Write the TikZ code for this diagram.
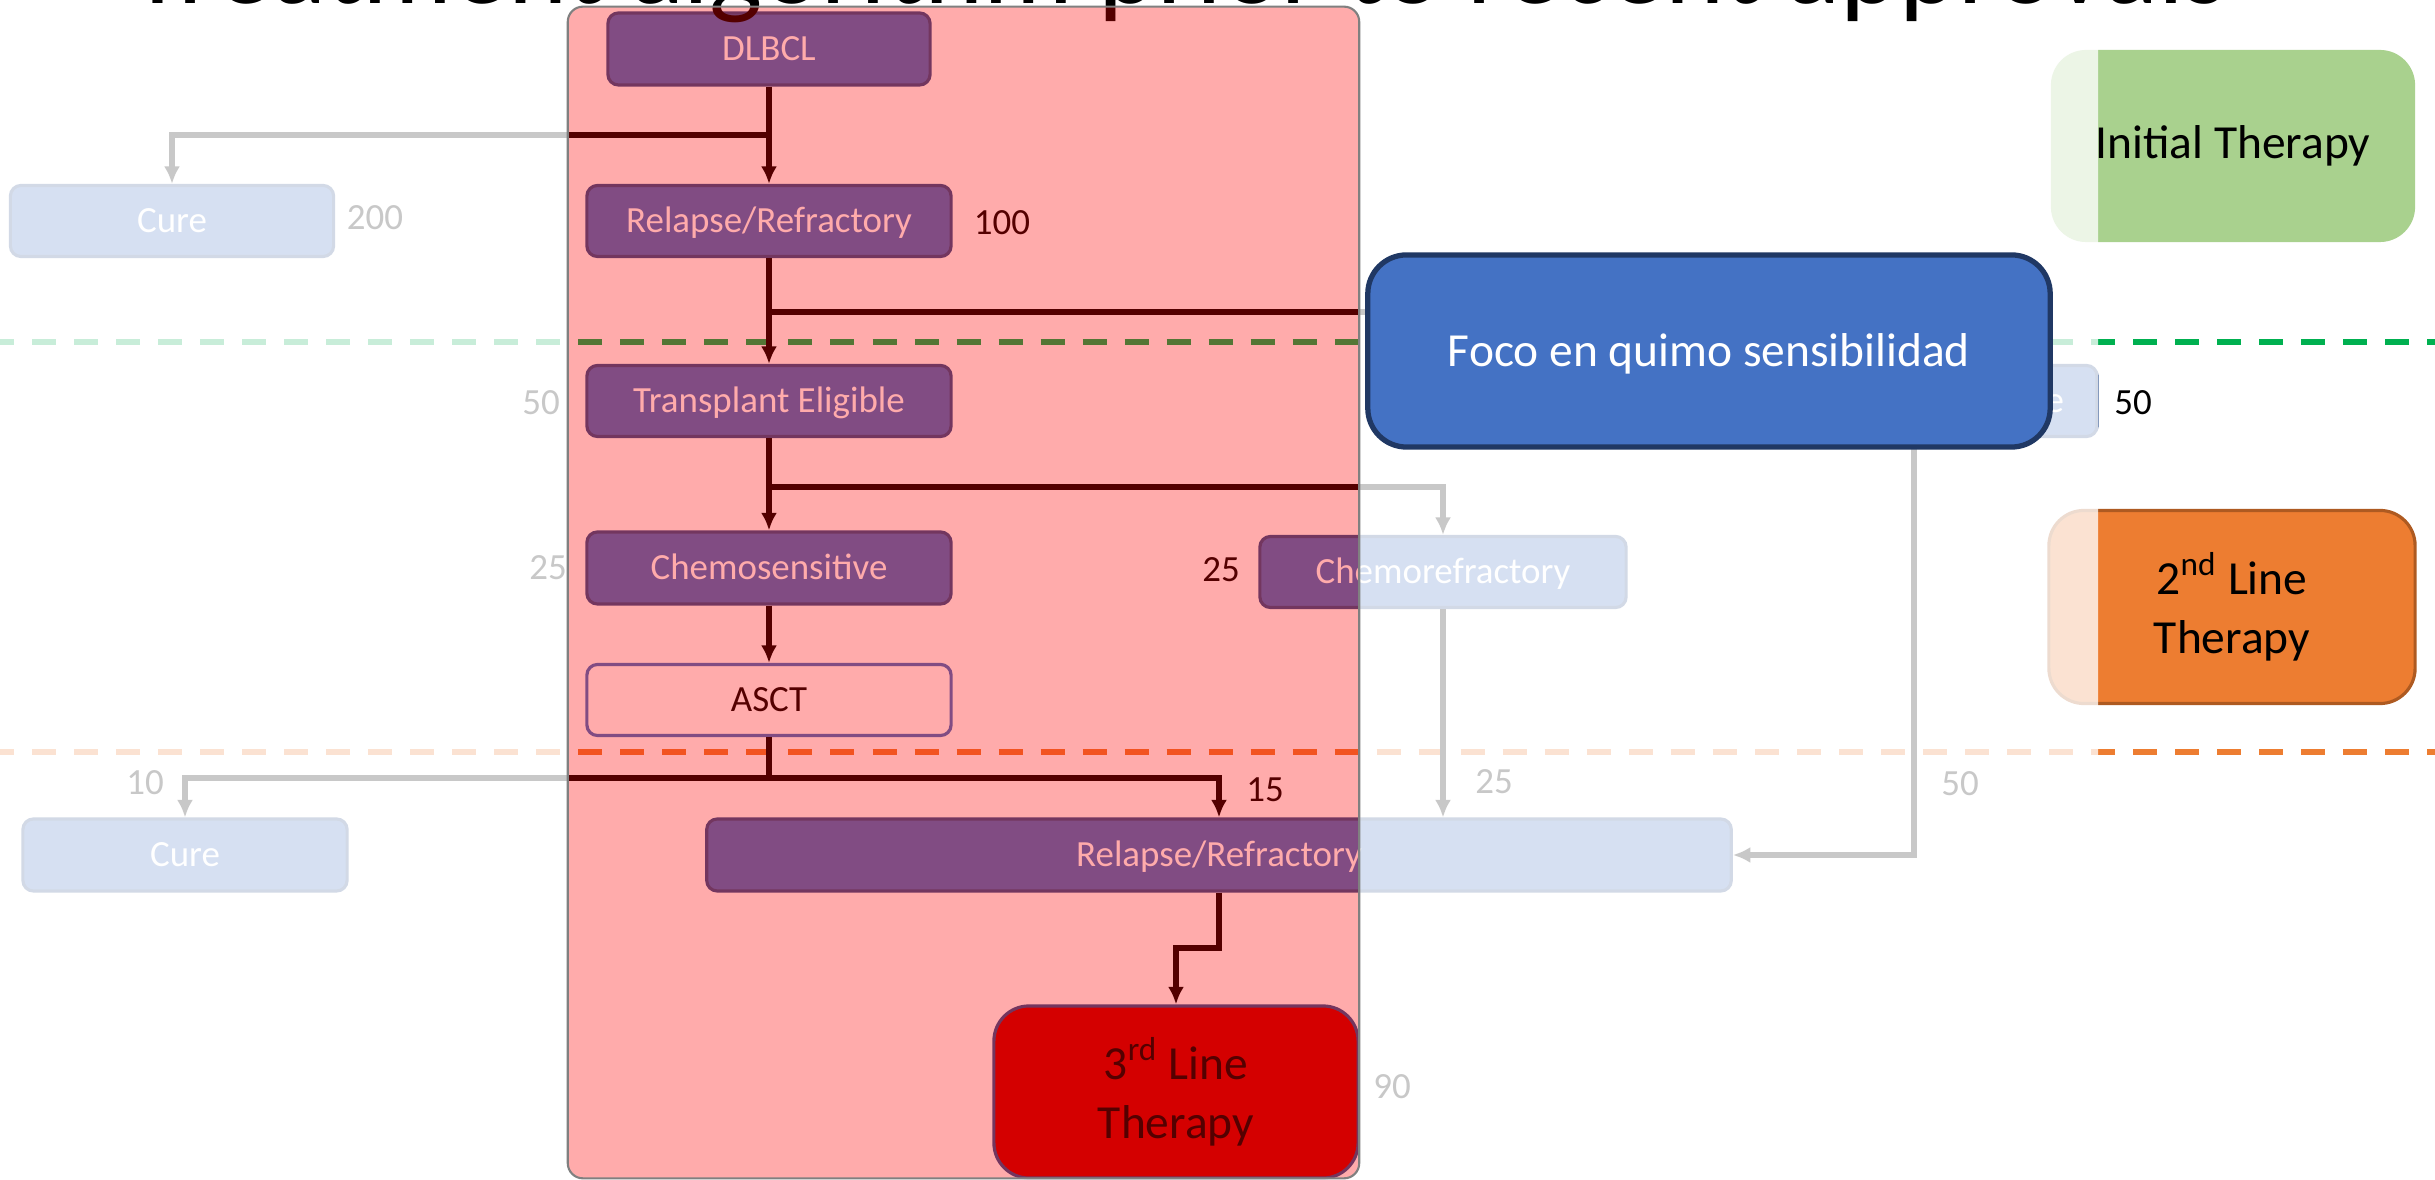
\documentclass[tikz,border=0pt]{standalone}
\usepackage{fontspec}
\setmainfont{Carlito}
\usetikzlibrary{arrows.meta}

\definecolor{boxblue}{HTML}{4472C4}
\definecolor{boxedge}{HTML}{2F528F}
\definecolor{navy}{HTML}{203864}
\definecolor{lightgreen}{HTML}{A9D18E}
\definecolor{brightgreen}{HTML}{00B050}
\definecolor{orangeline}{HTML}{ED7D31}
\definecolor{orangeedge}{HTML}{AE5A21}
\definecolor{darkred}{HTML}{C00000}

\begin{document}
\begin{tikzpicture}[x=0.01cm,y=-0.01cm]

\tikzstyle{every node}=[font=\fontsize{10.5}{12.6}\selectfont]
\tikzstyle{stepbox}=[draw=boxedge, line width=0.9pt, fill=boxblue, text=white, rounded corners=3pt, minimum width=3.64cm, minimum height=0.71cm, inner sep=0pt, text height=9pt, text depth=2.2pt]
\tikzstyle{curebox}=[stepbox, minimum width=3.23cm]
\tikzstyle{therapybox}=[rounded corners=10pt, minimum width=3.64cm, minimum height=1.92cm, align=center, font=\fontsize{13.5}{17}\selectfont]
\tikzstyle{flow}=[->, >={Latex[length=5pt,width=4.6pt]}, line width=1.5pt]
\tikzstyle{separator}=[line width=1.5pt, dash pattern=on 6.83pt off 5.12pt]

\useasboundingbox (0,0) rectangle (2435,1180);

% lines between therapy levels
\draw[separator, brightgreen] (-10,342) -- (2435,342);
\draw[separator, orangeline] (-10,752) -- (2435,752);

\node[therapybox, fill=lightgreen] (initial) at (2233,146) {Initial Therapy};
\node[therapybox, fill=orangeline, draw=orangeedge, line width=0.9pt, minimum width=3.66cm, minimum height=1.93cm] (second) at (2232,607) {2\textsuperscript{nd} Line\\Therapy};

\pgfmathsetmacro\x{769}

\node[stepbox, minimum width=3.22cm, minimum height=0.72cm] (dlbcl) at (\x,49) {DLBCL};
\node[stepbox] (relapse1) at (\x,221) {Relapse/Refractory};
\node[curebox] (cure1) at (172,221) {Cure};

\node[stepbox] (eligible) at (\x,401) {Transplant Eligible};
\node[curebox, minimum width=1.36cm] (cure3) at (2029,401) {Cure};

\node[stepbox, minimum height=0.72cm] (chemosens) at (\x,568) {Chemosensitive};
\node[stepbox, minimum width=3.66cm] (chemoref) at (1443,572) {Chemorefractory};
\node[stepbox, draw=boxblue, fill=white, text=black] (asct) at (\x,700) {ASCT};

\node[curebox, minimum width=3.24cm, minimum height=0.72cm] (cure2) at (185,855) {Cure};
\node[stepbox, minimum width=10.24cm, minimum height=0.72cm] (relapse2) at (1219,855) {Relapse/Refractory};

\node[therapybox, draw=boxedge, line width=0.9pt, fill=darkred, text=black, minimum width=3.64cm, minimum height=1.72cm] (third) at (1176,1092) {3\textsuperscript{rd} Line\\Therapy};

\coordinate (split1) at (\x,135);
\coordinate (split2) at (\x,312);
\coordinate (corner1) at (1914,312);
\coordinate (split3) at (\x,487);
\coordinate (split4) at (\x,778);
\coordinate (split5) at (1219,948);

\draw[flow] (dlbcl) -- (split1) -| (cure1);
\draw[flow] (split1) -- (relapse1);

\draw[flow] (relapse1) -- (split2) -- (corner1) |- (relapse2.east);
\draw[flow] (split2) -- (eligible);

\draw[flow] (eligible) -- (split3) -| (chemoref);
\draw[flow] (split3) -- (chemosens);

\draw[flow] (chemosens) -- (asct);
\draw[flow] (chemoref) -- (chemoref |- relapse2.north);

\draw[flow] (asct) -- (split4) -| (cure2);
\draw[flow] (split4) -| (relapse2);

\draw[flow] (relapse2) -- (split5) -| (third);

% patient numbers
\node (n200) at (375,218) {200};
\node (n100) at (1002,223) {100};
\node (n50a) at (541,403) {50};
\node (n50b) at (2133,403) {50};
\node (n25a) at (548,568) {25};
\node (n25b) at (1221,570) {25};
\node (n10) at (145,783) {10};
\node (n15) at (1265,790) {15};
\node (n25c) at (1494,782) {25};
\node (n50c) at (1960,784) {50};
\node (n90) at (1392,1087) {90};

% faded part of the slide
\fill[white, fill opacity=0.784, even odd rule] (-10,-10) rectangle (2098,1190)
  [rounded corners=4.3pt] (568,7) rectangle (1359,1178);

\node[anchor=base west, inner sep=0pt, font=\fontsize{32}{38}\selectfont] (title) at (130,4) {Treatment algorithm prior to recent approvals};

\node[draw=gray, line width=0.6pt, fill=red, fill opacity=0.33, rounded corners=4.3pt, minimum width=7.91cm, minimum height=11.71cm, inner sep=0pt] (highlight) at (963.5,592.5) {};

\node[draw=navy, line width=1.5pt, fill=boxblue, text=white, rounded corners=11pt, minimum width=6.82cm, minimum height=1.92cm, text height=11.6pt, text depth=2.5pt, font=\fontsize{13.5}{16}\selectfont] (focus) at (1709,351) {Foco en quimo sensibilidad};

\end{tikzpicture}
\end{document}
